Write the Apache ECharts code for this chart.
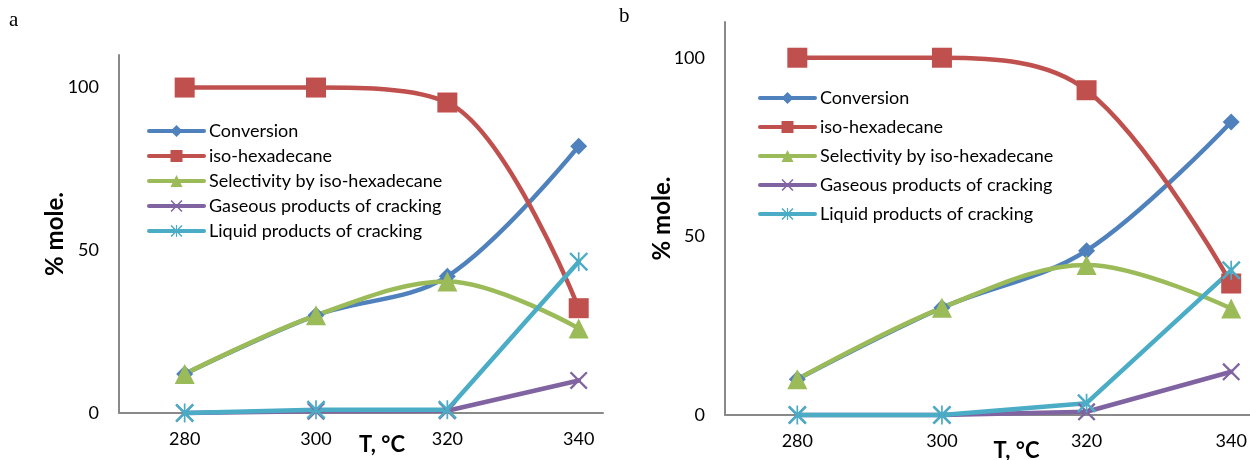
<!DOCTYPE html>
<html>
<head>
<meta charset="utf-8">
<script src="https://cdn.jsdelivr.net/npm/echarts@6/dist/echarts.min.js"></script>
<style>
html, body { margin: 0; padding: 0; background: #fff; }
#chart { width: 1250px; height: 460px; }
</style>
</head>
<body>
<div id="chart"></div>
<script>
var temps = [280, 300, 320, 340];
var seriesNames = ['Conversion', 'iso-hexadecane', 'Selectivity by iso-hexadecane',
	'Gaseous products of cracking', 'Liquid products of cracking'];

// panel a
var convA = [12, 30, 42, 82];
var isoA = [100, 100, 95.4, 32.2];
var selA = [12, 30, 40.4, 26];
var gasA = [0, 0.5, 0.7, 10];
var liqA = [0, 1, 1, 46.5];

// panel b
var convB = [10, 30, 46, 82];
var isoB = [100, 100, 90.9, 36.8];
var selB = [10, 30, 42, 29.8];
var gasB = [0, 0, 0.9, 12.1];
var liqB = [0, 0, 3.3, 40.5];

var yTicks = [0, 50, 100];

var colors = ['#4F81BD', '#C0504D', '#9BBB59', '#8064A2', '#4BACC6'];
var crossPath = 'path://M0,0.9L0.9,0L10,9.1L9.1,10ZM9.1,0L10,0.9L0.9,10L0,9.1Z';
var starPath = 'path://M0,0.9L0.9,0L10,9.1L9.1,10ZM9.1,0L10,0.9L0.9,10L0,9.1ZM4.55,0L5.45,0L5.45,10L4.55,10Z';
var symbols = ['diamond', 'rect', 'triangle', crossPath, starPath];
var symbolSizes = [17, 20, 20, 18, 19];
var smoothed = [true, true, true, false, false];

var font = 'Lato, "Open Sans", sans-serif';

function makeSeries(idx, values, gridIdx) {
	var pts = [];
	for (var i = 0; i < temps.length; i++) {
		pts.push([temps[i], values[i]]);
	}
	return {
		name: seriesNames[idx],
		type: 'line',
		xAxisIndex: gridIdx,
		yAxisIndex: gridIdx,
		data: pts,
		smooth: smoothed[idx] ? 0.35 : false,
		symbol: symbols[idx],
		symbolSize: symbolSizes[idx],
		clip: false,
		itemStyle: { color: colors[idx] },
		lineStyle: { color: colors[idx], width: 4.5, cap: 'round' },
		emphasis: { disabled: true },
		animation: false
	};
}

function makeXAxis(gridIdx, max, nameX, nameGap) {
	return {
		type: 'value',
		gridIndex: gridIdx,
		min: 270,
		max: max,
		interval: 10,
		name: 'T, °C',
		nameLocation: 'middle',
		nameGap: nameGap,
		nameMoveOverlap: false,
		nameTextStyle: { fontFamily: font, fontSize: 22, fontWeight: 'bold', color: '#000', padding: [0, 0, 0, nameX] },
		axisLine: { onZero: false, lineStyle: { color: '#898989', width: 2 } },
		axisTick: { show: false },
		splitLine: { show: false },
		axisLabel: {
			fontFamily: font, fontSize: 18, color: '#000', margin: 17,
			showMaxLabel: false,
			formatter: function(v) {
				return temps.indexOf(v) >= 0 ? String(v) : '';
			}
		}
	};
}

function makeYAxis(gridIdx, nameGap) {
	return {
		type: 'value',
		gridIndex: gridIdx,
		min: 0,
		max: 110,
		interval: 50,
		name: '% mole.',
		nameLocation: 'middle',
		nameGap: nameGap,
		nameMoveOverlap: false,
		nameTextStyle: { fontFamily: font, fontSize: 24, fontWeight: 'bold', color: '#000' },
		axisLine: { show: true, lineStyle: { color: '#898989', width: 2 } },
		axisTick: { show: false },
		splitLine: { show: false },
		axisLabel: {
			fontFamily: font, fontSize: 18, color: '#000', margin: 20,
			showMaxLabel: false,
			formatter: function(v) {
				return yTicks.indexOf(v) >= 0 ? String(v) : '';
			}
		}
	};
}

function makeLegend(left, top, gap) {
	return {
		orient: 'vertical',
		left: left,
		top: top,
		padding: 0,
		itemGap: gap,
		itemWidth: 55,
		itemHeight: 15,
		data: seriesNames,
		selectedMode: false,
		lineStyle: { width: 4, cap: 'round' },
		textStyle: { fontFamily: font, fontSize: 18, color: '#000', lineHeight: 20 }
	};
}

var chart = echarts.init(document.getElementById('chart'));

var series = [];
var panelA = [convA, isoA, selA, gasA, liqA];
var panelB = [convB, isoB, selB, gasB, liqB];
for (var k = 0; k < 5; k++) {
	series.push(makeSeries(k, panelA[k], 0));
}
for (var k = 0; k < 5; k++) {
	series.push(makeSeries(k, panelB[k], 1));
}

chart.setOption({
	backgroundColor: '#fff',
	animation: false,
	grid: [
		{ left: 119, top: 55, width: 484, height: 358, outerBoundsMode: 'none' },
		{ left: 725, top: 22, width: 525, height: 393, outerBoundsMode: 'none' }
	],
	xAxis: [makeXAxis(0, 343.7, 42, 21), makeXAxis(1, 342.6, 58, 25)],
	yAxis: [makeYAxis(0, 52), makeYAxis(1, 51)],
	legend: [makeLegend(147, 121, 5), makeLegend(758, 88, 9)],
	graphic: [
		{ type: 'text', left: 9, top: 10, style: { text: 'a', fontFamily: '"Liberation Serif", serif', fontSize: 21, fill: '#000' } },
		{ type: 'text', left: 619, top: 6, style: { text: 'b', fontFamily: '"Liberation Serif", serif', fontSize: 21, fill: '#000' } }
	],
	series: series
});
</script>
</body>
</html>
